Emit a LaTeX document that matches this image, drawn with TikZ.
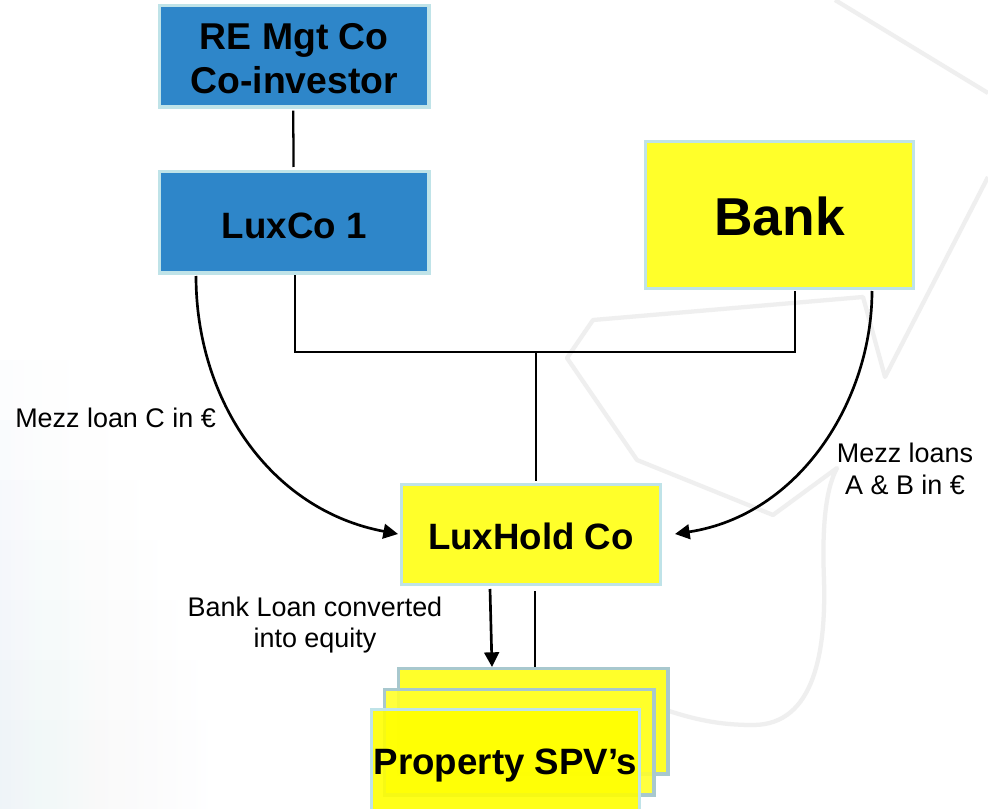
\documentclass[tikz,border=0pt]{standalone}
\usepackage{fontspec}
\setmainfont{Liberation Sans}
\usetikzlibrary{arrows.meta}
\definecolor{bluebox}{HTML}{2E86C9}
\definecolor{yellowbox}{HTML}{FFFF2A}
\definecolor{yellowfront}{HTML}{FFFF00}
\definecolor{edgeblue}{HTML}{BFE3E8}
\definecolor{edgegrey}{HTML}{A8C8CE}
\definecolor{wm}{HTML}{EFEFEF}
\definecolor{paleblue}{HTML}{DCE9F4}
\newcommand{\dropby}[2]{\raisebox{-#1pt}[\height][\depth]{#2}}
\tikzset{
  x=0.75pt,y=-0.75pt,
  box/.style={draw=edgeblue,line width=2.4pt,inner sep=0pt,anchor=north west,align=center,font=\bfseries},
  blue box/.style={box,fill=bluebox},
  yellow box/.style={box,fill=yellowbox},
  big text/.style={font=\bfseries\fontsize{27.5}{33}\selectfont},
  link/.style={draw=black,line width=2pt},
  thin link/.style={draw=black,line width=1.7pt},
  tip/.style={-{Triangle[length=11pt,width=11pt]}},
  lab/.style={font=\fontsize{20.2}{23.5}\selectfont,align=center,inner sep=0pt},
  mark line/.style={draw=wm,line width=3.2pt,line join=round}
}
\begin{document}
\begin{tikzpicture}
\useasboundingbox (0,0) rectangle (988,809);
\fill[white] (0,0) rectangle (988,809);
\foreach \t/\w in {360/70,420/110,480/140,540/160,600/180,660/200,720/210}{
  \shade[left color=paleblue,right color=white,opacity=.07] (0,\t) rectangle (\w,809);
}
\draw[mark line] (835,0) -- (988,93);
\draw[mark line] (988,177) -- (885,377) -- (863,297) -- (593,320) -- (567,358) -- (637,460) -- (773,515) -- (837,468)
  .. controls (825,490) and (822,530) .. (824,580) .. controls (826,650) and (815,725) .. (753,725) .. controls (720,725) and (695,720) .. (660,708);
\node[blue box,minimum width=202pt,minimum height=76pt,font=\bfseries\fontsize{28}{33}\selectfont] (re) at (158,4) {\dropby{1.5}{RE Mgt Co}\\\dropby{1.5}{Co-investor}};
\node[blue box,minimum width=202pt,minimum height=76pt,big text] (lux) at (158,170) {\dropby{2.5}{LuxCo 1}};
\node[yellow box,minimum width=201pt,minimum height=110pt,font=\bfseries\fontsize{40}{48}\selectfont] (bank) at (644,140) {\dropby{1.5}{Bank}};
\node[yellow box,minimum width=194pt,minimum height=75pt,big text] (hold) at (400,483) {\dropby{1}{LuxHold Co}};
\node[yellow box,draw=edgegrey,minimum width=202pt,minimum height=79pt] (s3) at (397,667) {};
\node[yellow box,draw=edgegrey,minimum width=202pt,minimum height=79pt,fill opacity=.9] (s2) at (383,688) {};
\node[box,fill=yellowfront,minimum width=201pt,minimum height=81pt,big text,fill opacity=.9,text opacity=1] (s1) at (370,708) {\dropby{1.5}{Property SPV’s}};
\coordinate (j1) at (295,352);
\coordinate (j2) at (795,352);
\coordinate (j3) at (536,352);
\draw[thin link] (re.south) ++(-1,2) -- (293.5,167);
\draw[link] (295,275) -- (j1) -- (j2) -- (795,291);
\draw[link] (j3) -- (536,481);
\draw[link,tip] (196,276) .. controls (196,400) and (270,510) .. (398,534);
\draw[link,tip] (872,291) .. controls (872,400) and (800,515) .. (675,534);
\draw[link,tip] (490,589) -- (492,667);
\draw[link] (535,591) -- (535,667);
\node[lab,anchor=west] (l1) at (15,418) {Mezz loan C in €};
\node[lab] (l2) at (905,469) {Mezz loans\\A \& B in €};
\node[lab] (l3) at (315,625) {Bank Loan converted\\into equity};
\end{tikzpicture}
\end{document}
